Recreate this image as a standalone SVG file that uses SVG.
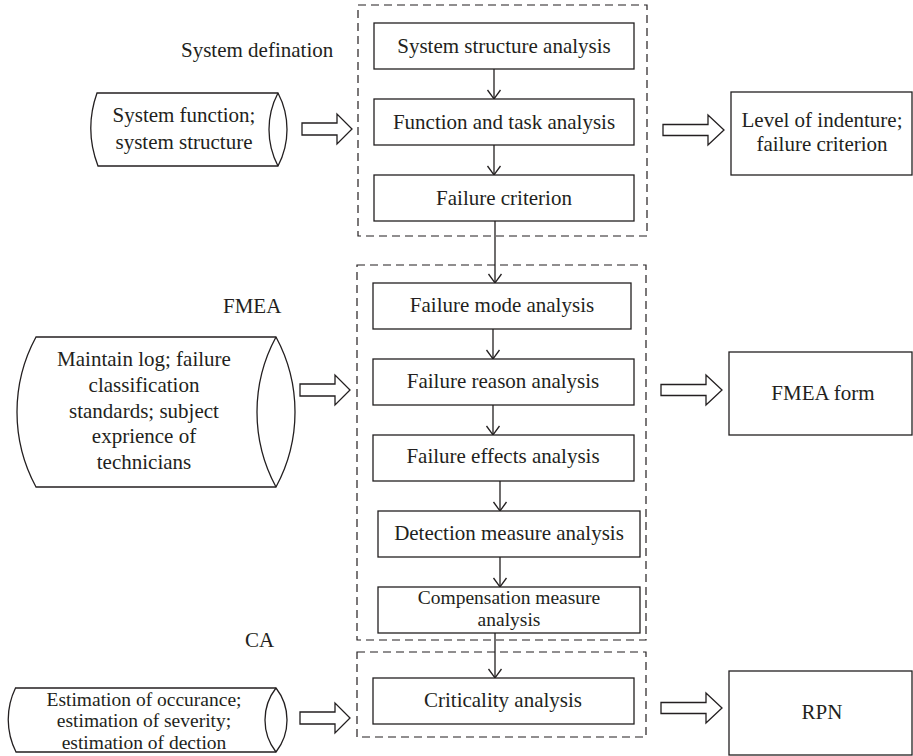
<svg xmlns="http://www.w3.org/2000/svg" width="913" height="756" viewBox="0 0 913 756">
<style>
text{font-family:"Liberation Serif","Times New Roman",serif;font-size:21px;fill:#231f20;text-anchor:middle}
.lbl{text-anchor:start}
.sm{font-size:19.5px}
.box{fill:#fff;stroke:#231f20;stroke-width:1.3}
.dash{fill:none;stroke:#231f20;stroke-width:1.2;stroke-dasharray:8 5}
.cyl{fill:#fff;stroke:#231f20;stroke-width:1.3}
.con{fill:none;stroke:#231f20;stroke-width:1.3;marker-end:url(#v)}
.blk{fill:#fff;stroke:#231f20;stroke-width:1.3}
</style>
<defs>
<marker id="v" markerUnits="userSpaceOnUse" markerWidth="12" markerHeight="16" viewBox="-10 -8 12 16" refX="0" refY="0" orient="auto">
<path d="M-9,-6.5 L0,0 L-9,6.5" fill="none" stroke="#231f20" stroke-width="1.3"/>
</marker>
<path id="blkL" d="M0,-6 H35 V-15 L50,0 L35,15 V6 H0 Z"/>
<path id="blkR" d="M0,-5.5 H45 V-15 L61,0 L45,15 V5.5 H0 Z"/>
</defs>
<rect width="913" height="756" fill="#fff"/>

<g id="stages">
<rect class="dash" x="358" y="5" width="289" height="231"/>
<rect class="dash" x="357" y="265" width="289" height="375"/>
<rect class="dash" x="357" y="652" width="289" height="85"/>
<text class="lbl" x="181" y="57">System defination</text>
<text class="lbl" x="223" y="313">FMEA</text>
<text class="lbl" x="245" y="647">CA</text>
</g>

<g id="connectors">
<path class="con" d="M494,69 V99"/>
<path class="con" d="M494,145 V175"/>
<path class="con" d="M495,221 V283"/>
<path class="con" d="M493,329 V359"/>
<path class="con" d="M493,405 V435"/>
<path class="con" d="M500,481 V511"/>
<path class="con" d="M500,557 V587"/>
<path class="con" d="M495,633 V678"/>
<use href="#blkL" class="blk" transform="translate(302,129)"/>
<use href="#blkL" class="blk" transform="translate(300,390)"/>
<use href="#blkL" class="blk" transform="translate(300,718)"/>
<use href="#blkR" class="blk" transform="translate(663,130)"/>
<use href="#blkR" class="blk" transform="translate(661,390)"/>
<use href="#blkR" class="blk" transform="translate(661,708)"/>
</g>

<g id="input-system">
<path class="cyl" d="M97,93 H278 A78.5,78.5 0 0 1 278,166 H98 A105.7,105.7 0 0 1 97,93 Z"/>
<path class="cyl" d="M278,93 A78.5,78.5 0 0 0 278,166"/>
<text x="184" y="122">System function;</text>
<text x="184" y="149">system structure</text>
</g>

<g id="input-fmea">
<path class="cyl" d="M36,337 H276 A157.5,157.5 0 0 1 276,487 H36 A157.5,157.5 0 0 1 36,337 Z"/>
<path class="cyl" d="M276,337 A157.5,157.5 0 0 0 276,487"/>
<text x="144" y="366">Maintain log; failure</text>
<text x="144" y="392">classification</text>
<text x="144" y="418">standards; subject</text>
<text x="144" y="443">exprience of</text>
<text x="144" y="469">technicians</text>
</g>

<g id="input-ca">
<path class="cyl" d="M15.5,688 H276 A52,52 0 0 1 276,752 H16 A72,72 0 0 1 15.5,688 Z"/>
<path class="cyl" d="M276,688 A52,52 0 0 0 276,752"/>
<text class="sm" x="144" y="705.5">Estimation of occurance;</text>
<text class="sm" x="144" y="727">estimation of severity;</text>
<text class="sm" x="144" y="748.5">estimation of dection</text>
</g>

<g id="system-structure"><rect class="box" x="374" y="23" width="260" height="46"/><text x="504" y="53">System structure analysis</text></g>
<g id="function-task"><rect class="box" x="374" y="99" width="260" height="46"/><text x="504" y="129">Function and task analysis</text></g>
<g id="failure-criterion"><rect class="box" x="374" y="175" width="260" height="46"/><text x="504" y="205">Failure criterion</text></g>

<g id="failure-mode"><rect class="box" x="373" y="283" width="258" height="46"/><text x="502" y="312">Failure mode analysis</text></g>
<g id="failure-reason"><rect class="box" x="373" y="359" width="261" height="46"/><text x="503" y="388">Failure reason analysis</text></g>
<g id="failure-effects"><rect class="box" x="373" y="435" width="261" height="46"/><text x="503" y="463">Failure effects analysis</text></g>
<g id="detection"><rect class="box" x="378" y="511" width="262" height="46"/><text x="509" y="540">Detection measure analysis</text></g>
<g id="compensation"><rect class="box" x="378" y="587" width="262" height="46"/><text class="sm" x="509" y="604">Compensation measure</text><text class="sm" x="509" y="625.5">analysis</text></g>

<g id="criticality"><rect class="box" x="373" y="678" width="261" height="46"/><text x="503" y="707">Criticality analysis</text></g>

<g id="out-level"><rect class="box" x="731" y="92" width="181" height="83"/><text x="822" y="127">Level of indenture;</text><text x="822" y="151">failure criterion</text></g>
<g id="out-fmea-form"><rect class="box" x="729" y="352" width="183" height="83"/><text x="823" y="400">FMEA form</text></g>
<g id="out-rpn"><rect class="box" x="729" y="671" width="183" height="84"/><text x="822" y="719">RPN</text></g>
</svg>
